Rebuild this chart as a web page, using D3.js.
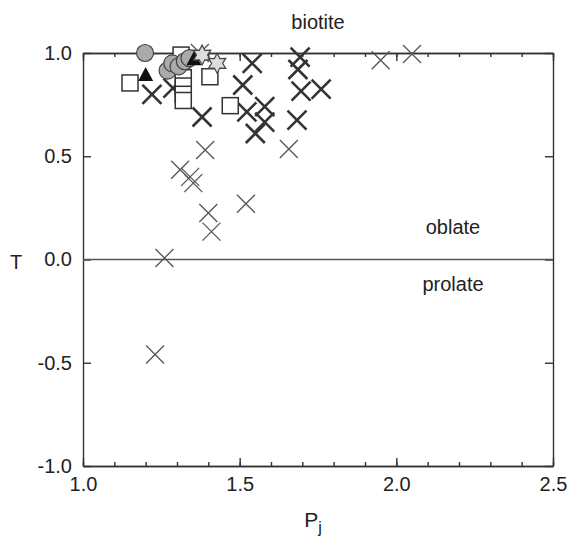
<!DOCTYPE html>
<html lang="en">
  <head>
    <meta charset="utf-8">
    <title>biotite</title>
    <script type="text/javascript" src="https://d3js.org/d3.v7.min.js"></script>
    <style type="text/css">
        body { margin: 0; background: #fff; }
        text {
            font-family: "Liberation Sans", Arial, sans-serif;
            fill: #222;
        }
        .axis path, .axis line {
            stroke: #333;
            stroke-width: 1.4px;
        }
        .axis text { font-size: 20px; }
    </style>
  </head>
  <body>
    <svg id="chart" width="568" height="537"></svg>
    <script type="text/javascript">

      // [Pj, T]
      var thickCross = [[1.22, 0.80], [1.287, 0.83], [1.38, 0.69], [1.51, 0.845], [1.54, 0.95],
                        [1.523, 0.715], [1.55, 0.61], [1.58, 0.74], [1.58, 0.665], [1.683, 0.675],
                        [1.693, 0.98], [1.686, 0.92], [1.696, 0.815], [1.76, 0.825]];
      var thinCross = [[1.373, 1.0], [1.39, 0.53], [1.657, 0.535], [1.31, 0.435], [1.342, 0.40],
                       [1.352, 0.37], [1.52, 0.27], [1.40, 0.225], [1.41, 0.135], [1.26, 0.007],
                       [1.23, -0.46], [1.95, 0.965], [2.05, 0.995]];
      var squares = [[1.15, 0.855], [1.313, 0.99], [1.32, 0.88], [1.32, 0.84], [1.32, 0.80],
                     [1.32, 0.77], [1.405, 0.885], [1.47, 0.745]];
      var circles = [[1.198, 1.0], [1.27, 0.915], [1.285, 0.95], [1.305, 0.935], [1.325, 0.96],
                     [1.34, 0.975]];
      var triangles = [[1.20, 0.893], [1.354, 0.97]];
      var stars = [[1.38, 0.99], [1.428, 0.95]];

      var xMajor = [1.0, 1.5, 2.0, 2.5];
      var xMinor = d3.range(10, 26).map(function(d){ return d / 10 });
      var yMajor = [-1.0, -0.5, 0.0, 0.5, 1.0];

      var svg = d3.select("#chart");

      var x = d3.scaleLinear().domain([1, 2.5]).range([83, 553]);
      var y = d3.scaleLinear().domain([-1, 1]).range([466, 53]);

      var fmt = function(d) { return (d < 0 ? "-" : "") + d3.format(".1f")(Math.abs(d)) };

      //frame ticks
      svg.append("g").attr("class", "axis")
         .attr("transform", "translate(0," + y(-1) + ")")
         .call(d3.axisBottom(x).tickValues(xMinor).tickSize(-4).tickSizeOuter(0).tickFormat(""));
      svg.append("g").attr("class", "axis")
         .attr("transform", "translate(0," + y(-1) + ")")
         .call(d3.axisBottom(x).tickValues(xMajor).tickSize(-8).tickSizeOuter(0)
               .tickPadding(11).tickFormat(fmt));
      svg.append("g").attr("class", "axis")
         .attr("transform", "translate(0," + y(1) + ")")
         .call(d3.axisTop(x).tickValues(xMinor).tickSize(-4).tickSizeOuter(0).tickFormat(""));
      svg.append("g").attr("class", "axis")
         .attr("transform", "translate(0," + y(1) + ")")
         .call(d3.axisTop(x).tickValues(xMajor).tickSize(-8).tickSizeOuter(0).tickFormat(""));
      svg.append("g").attr("class", "axis")
         .attr("transform", "translate(" + x(1) + ",0)")
         .call(d3.axisLeft(y).tickValues(yMajor).tickSize(-8).tickSizeOuter(0)
               .tickPadding(11).tickFormat(fmt));
      svg.append("g").attr("class", "axis")
         .attr("transform", "translate(" + x(2.5) + ",0)")
         .call(d3.axisRight(y).tickValues(yMajor).tickSize(-8).tickSizeOuter(0).tickFormat(""));

      //zero line
      svg.append("line")
         .attr("x1", x(1)).attr("x2", x(2.5))
         .attr("y1", y(0)).attr("y2", y(0))
         .attr("stroke", "#555").attr("stroke-width", 1.5);

      //crosses
      function cross(sel, data, r, w, col) {
        sel.selectAll(null).data(data).enter().append("path")
           .attr("d", "M" + (-r) + "," + (-r) + "L" + r + "," + r + "M" + (-r) + "," + r + "L" + r + "," + (-r))
           .attr("transform", function(d){ return "translate(" + x(d[0]) + "," + y(d[1]) + ")" })
           .attr("stroke", col).attr("stroke-width", w).attr("fill", "none");
      }
      var marks = svg.append("g");
      cross(marks, thinCross, 9, 1.3, "#555");
      cross(marks, thickCross, 9.5, 2.6, "#333");

      marks.selectAll(".sq").data(squares).enter().append("rect")
           .attr("class", "sq")
           .attr("x", function(d){ return x(d[0]) - 8 })
           .attr("y", function(d){ return y(d[1]) - 8 })
           .attr("width", 16).attr("height", 16)
           .attr("fill", "#fff").attr("stroke", "#333").attr("stroke-width", 1.5);

      marks.selectAll(".ci").data(circles).enter().append("circle")
           .attr("class", "ci")
           .attr("cx", function(d){ return x(d[0]) })
           .attr("cy", function(d){ return y(d[1]) })
           .attr("r", 8.5)
           .attr("fill", "#aaa").attr("stroke", "#444").attr("stroke-width", 1.2);

      marks.selectAll(".tr").data(triangles).enter().append("path")
           .attr("class", "tr")
           .attr("d", "M0,-8L7.5,6L-7.5,6Z")
           .attr("transform", function(d){ return "translate(" + x(d[0]) + "," + y(d[1]) + ")" })
           .attr("fill", "#111");

      function starPath(n, r1, r2) {
        var pts = [];
        for (var i = 0; i < 2 * n; i++) {
          var a = Math.PI * i / n - Math.PI / 2, r = i % 2 ? r2 : r1;
          pts.push([r * Math.cos(a), r * Math.sin(a)]);
        }
        return "M" + pts.join("L") + "Z";
      }
      marks.selectAll(".st").data(stars).enter().append("path")
           .attr("class", "st")
           .attr("d", starPath(6, 10, 5.5))
           .attr("transform", function(d){ return "translate(" + x(d[0]) + "," + y(d[1]) + ")" })
           .attr("fill", "#ddd").attr("stroke", "#444").attr("stroke-width", 1.2);

      //labels
      svg.append("text").attr("x", 318).attr("y", 29).attr("text-anchor", "middle")
         .style("font-size", "20px").text("biotite");
      svg.append("text").attr("x", 453).attr("y", 234).attr("text-anchor", "middle")
         .style("font-size", "20px").text("oblate");
      svg.append("text").attr("x", 453).attr("y", 291).attr("text-anchor", "middle")
         .style("font-size", "20px").text("prolate");
      svg.append("text").attr("x", 16).attr("y", 269).attr("text-anchor", "middle")
         .style("font-size", "20px").text("T");
      var pj = svg.append("text").attr("x", 313).attr("y", 527).attr("text-anchor", "middle")
         .style("font-size", "21px");
      pj.append("tspan").text("P");
      pj.append("tspan").attr("dy", 6).style("font-size", "16px").text("j");
    </script>
  </body>
</html>
